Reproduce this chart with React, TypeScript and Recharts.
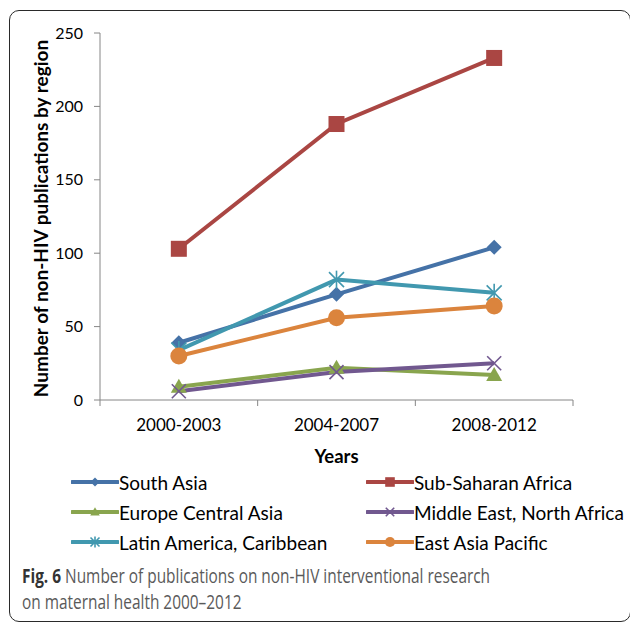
import React from 'react'
import { LineChart, Line, XAxis, YAxis } from 'recharts'

const CATEGORIES = ['2000-2003', '2004-2007', '2008-2012']
const Y_TICKS = [0, 50, 100, 150, 200, 250]
const X_TICKS = [0, 0.5, 1, 1.5, 2, 2.5, 3]

const SOUTH_ASIA = [39, 72, 104]
const SUB_SAHARAN_AFRICA = [103, 188, 233]
const EUROPE_CENTRAL_ASIA = [9, 22, 17]
const MIDDLE_EAST_NORTH_AFRICA = [6, 19, 25]
const LATIN_AMERICA_CARIBBEAN = [34, 82, 73]
const EAST_ASIA_PACIFIC = [30, 56, 64]

type Shape = 'diamond' | 'square' | 'triangle' | 'cross' | 'star' | 'circle'

interface Series {
  key: string
  name: string
  color: string
  shape: Shape
  values: number[]
}

const SERIES: Series[] = [
  { key: 'sa', name: 'South Asia', color: '#4572A7', shape: 'diamond', values: SOUTH_ASIA },
  { key: 'ssa', name: 'Sub-Saharan Africa', color: '#AA4643', shape: 'square', values: SUB_SAHARAN_AFRICA },
  { key: 'eca', name: 'Europe Central Asia', color: '#89A54E', shape: 'triangle', values: EUROPE_CENTRAL_ASIA },
  { key: 'mena', name: 'Middle East, North Africa', color: '#71588F', shape: 'cross', values: MIDDLE_EAST_NORTH_AFRICA },
  { key: 'lac', name: 'Latin America, Caribbean', color: '#4198AF', shape: 'star', values: LATIN_AMERICA_CARIBBEAN },
  { key: 'eap', name: 'East Asia Pacific', color: '#DB843D', shape: 'circle', values: EAST_ASIA_PACIFIC },
]

// x sits in the middle of each category band, so band edges land on integers
const data = CATEGORIES.map((name, i) => {
  const row: Record<string, number | string> = { name, x: i + 0.5 }
  SERIES.forEach(s => { row[s.key] = s.values[i] })
  return row
})

const AXIS = '#868686'

function Marker({ cx, cy, shape, color, k = 1 }: { cx: number; cy: number; shape: Shape; color: string; k?: number }) {
  if (cx == null || cy == null) return null
  switch (shape) {
    case 'diamond': {
      const s = 7.5 * k
      return <polygon points={`${cx},${cy - s} ${cx + s},${cy} ${cx},${cy + s} ${cx - s},${cy}`} fill={color} />
    }
    case 'square': {
      const s = 8 * k
      return <rect x={cx - s} y={cy - s} width={s * 2} height={s * 2} fill={color} />
    }
    case 'triangle': {
      const s = 8 * k
      return <polygon points={`${cx},${cy - s} ${cx + s},${cy + s * 0.75} ${cx - s},${cy + s * 0.75}`} fill={color} />
    }
    case 'cross': {
      const s = 7 * k
      return (
        <g stroke={color} strokeWidth={1.6}>
          <line x1={cx - s} y1={cy - s} x2={cx + s} y2={cy + s} />
          <line x1={cx - s} y1={cy + s} x2={cx + s} y2={cy - s} />
        </g>
      )
    }
    case 'star': {
      const s = 7.5 * k
      return (
        <g stroke={color} strokeWidth={1.6}>
          <line x1={cx - s} y1={cy - s} x2={cx + s} y2={cy + s} />
          <line x1={cx - s} y1={cy + s} x2={cx + s} y2={cy - s} />
          <line x1={cx} y1={cy - s * 1.2} x2={cx} y2={cy + s * 1.2} />
        </g>
      )
    }
    default:
      return <circle cx={cx} cy={cy} r={8.5 * k} fill={color} />
  }
}

function XTick({ x, y, payload }: any) {
  const v = payload.value as number
  if (Number.isInteger(v)) {
    return <line x1={x} x2={x} y1={y} y2={y + 6} stroke={AXIS} />
  }
  return (
    <text x={x} y={y + 31} textAnchor="middle" fontSize={17} fill="#000">
      {CATEGORIES[Math.floor(v)]}
    </text>
  )
}

function LegendItem({ s }: { s: Series }) {
  return (
    <div style={{ display: 'flex', alignItems: 'center', height: 30 }}>
      <svg width={48} height={20} style={{ display: 'block' }}>
        <line x1={1} x2={47} y1={10} y2={10} stroke={s.color} strokeWidth={4} strokeLinecap="round" />
        <Marker cx={24} cy={10} shape={s.shape} color={s.color} k={0.6} />
      </svg>
      <span style={{ fontSize: 19, marginLeft: 0, color: '#000' }}>{s.name}</span>
    </div>
  )
}

export default function App() {
  return (
    <div style={{ position: 'absolute', left: 0, top: 0, width: 630, height: 622, overflow: 'hidden', background: '#fff', fontFamily: 'Lato, sans-serif' }}>
      {/* figure frame */}
      <div style={{ position: 'absolute', left: 9, top: 10, width: 620, height: 610, border: '1.5px solid #2a2a2a', borderRadius: 10 }} />

      <div style={{ position: 'absolute', left: 0, top: 0 }}>
        <LineChart width={630} height={470} data={data} margin={{ top: 33, right: 57, left: 20, bottom: 0 }}>
          <XAxis
            dataKey="x"
            type="number"
            domain={[0, 3]}
            ticks={X_TICKS}
            interval={0}
            tick={<XTick />}
            tickLine={false}
            tickSize={0}
            tickMargin={0}
            axisLine={{ stroke: AXIS }}
            height={70}
            label={{ value: 'Years', position: 'insideBottom', offset: 7, fontSize: 18.5, fontWeight: 700, fill: '#000' }}
          />
          <YAxis
            domain={[0, 250]}
            ticks={Y_TICKS}
            width={80}
            tick={{ fontSize: 16, fill: '#000' }}
            tickSize={6}
            tickMargin={11}
            tickLine={{ stroke: AXIS }}
            axisLine={{ stroke: AXIS }}
            label={{
              value: 'Number of non-HIV publications by region',
              angle: -90,
              position: 'insideLeft',
              offset: 21,
              fontSize: 19,
              fontWeight: 700,
              fill: '#000',
              dy: 2,
              style: { textAnchor: 'middle' },
            }}
          />
          {SERIES.map(s => (
            <Line
              key={s.key}
              dataKey={s.key}
              name={s.name}
              stroke={s.color}
              strokeWidth={4}
              isAnimationActive={false}
              dot={(p: any) => <Marker key={`${s.key}-${p.index}`} cx={p.cx} cy={p.cy} shape={s.shape} color={s.color} />}
              activeDot={false}
            />
          ))}
        </LineChart>
      </div>

      {/* legend */}
      <div style={{ position: 'absolute', left: 71, top: 467, display: 'grid', gridTemplateColumns: '295px auto' }}>
        {SERIES.map(s => <LegendItem key={s.key} s={s} />)}
      </div>

      {/* caption */}
      <div style={{ position: 'absolute', left: 22, top: 563, fontSize: 19.5, lineHeight: '26px', color: '#5a5a5a', fontFamily: 'Open Sans, sans-serif', whiteSpace: 'nowrap', transform: 'scaleX(0.79)', transformOrigin: 'left top' }}>
        <span style={{ fontWeight: 700, color: '#333' }}>Fig. 6</span> Number of publications on non-HIV interventional research
        <br />
        on maternal health 2000–2012
      </div>
    </div>
  )
}
